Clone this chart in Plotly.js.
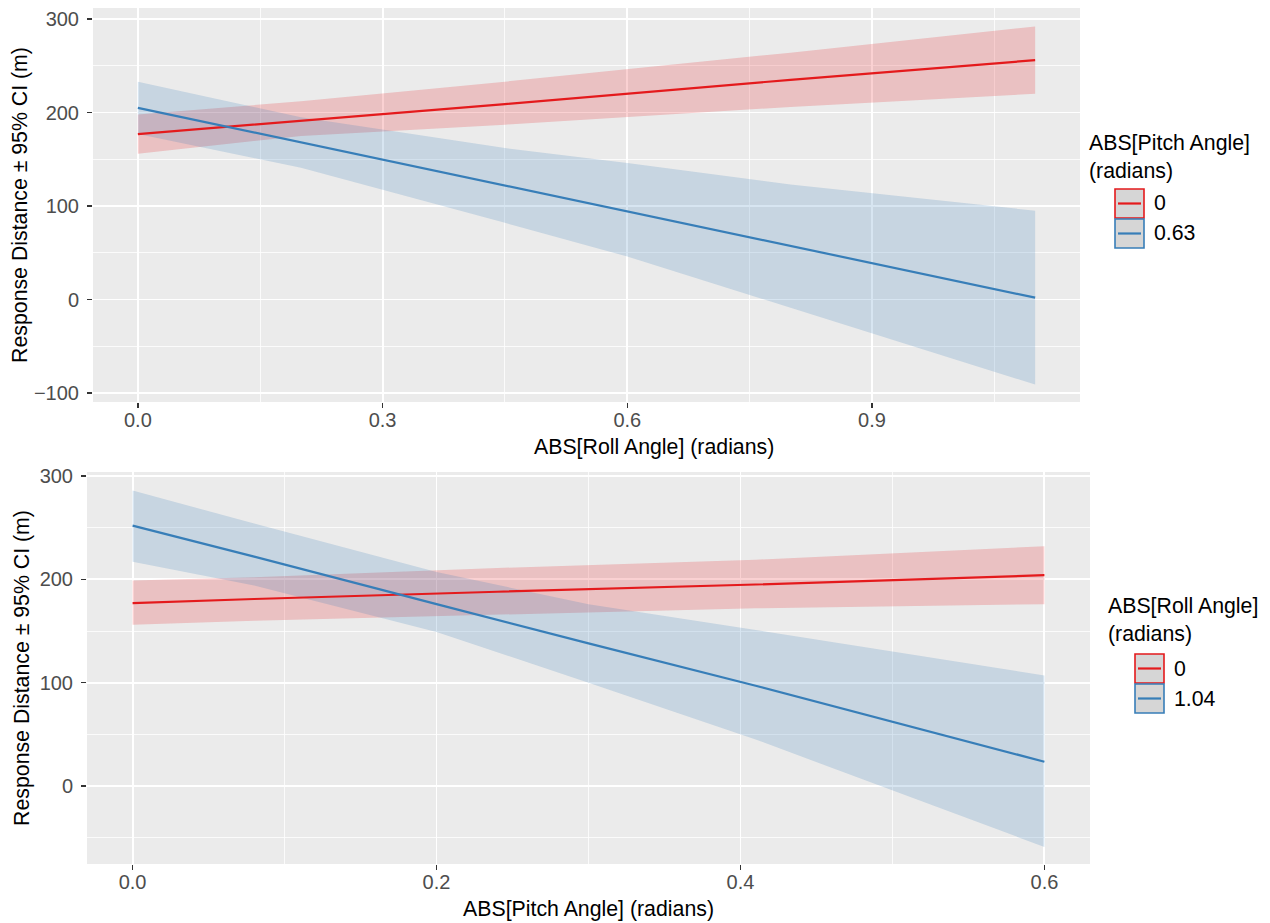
<!DOCTYPE html>
<html><head><meta charset="utf-8">
<script src="https://cdn.plot.ly/plotly-3.0.1.min.js"></script>
<style>html,body{margin:0;padding:0;background:#fff}#chart{width:1270px;height:923px}</style>
</head><body><div id="chart"></div>
<script>
// ---- Top panel: Response distance vs ABS[Roll Angle], grouped by ABS[Pitch Angle] ----
const rollX_pitch0   = [0, 0.2, 0.45, 0.8, 1.1];
const pitch0_fit     = [177, 191, 209, 235, 256];
const pitch0_upper   = [198, 212, 233, 264, 292];
const pitch0_lower   = [156, 175, 187, 206, 220];

const rollX_pitch063 = [0, 0.2, 0.45, 0.6, 0.8, 1.1];
const pitch063_fit   = [205, 168, 122, 94, 57, 2];
const pitch063_upper = [233, 195, 162, 146, 123, 95];
const pitch063_lower = [177, 141, 82, 46, -9, -91];

// ---- Bottom panel: Response distance vs ABS[Pitch Angle], grouped by ABS[Roll Angle] ----
const pitchX_roll0   = [0, 0.08, 0.24, 0.41, 0.6];
const roll0_fit      = [177, 181, 188, 195, 204];
const roll0_upper    = [199, 202, 211, 219, 232];
const roll0_lower    = [156, 160, 166, 172, 176];

const pitchX_roll104 = [0, 0.08, 0.2, 0.3, 0.41, 0.6];
const roll104_fit    = [252, 222, 176, 138, 97, 23.5];
const roll104_upper  = [286, 254, 207, 176, 151, 107];
const roll104_lower  = [217, 194, 149, 100, 45, -59];

// tick labels
const topXTicks = [0, 0.3, 0.6, 0.9];
const botXTicks = [0, 0.2, 0.4, 0.6];
const topYTicks = [-100, 0, 100, 200, 300];
const botYTicks = [0, 100, 200, 300];

const legendTop = {title: 'ABS[Pitch Angle]<br>(radians)', labels: ['0', '0.63']};
const legendBot = {title: 'ABS[Roll Angle]<br>(radians)', labels: ['0', '1.04']};

// ---- styling ----
const RED = '#E41A1C', BLUE = '#377EB8';
const RED_FILL = 'rgba(228,26,28,0.2)', BLUE_FILL = 'rgba(55,126,184,0.2)';
const FONT = 'Liberation Sans, Arial, Helvetica, sans-serif';
const W = 1270, H = 923;
const fx = v => v / W, fy = v => 1 - v / H;

function band(xs, up, lo, fill, xa, ya) {
  return {x: xs.concat(xs.slice().reverse()), y: up.concat(lo.slice().reverse()),
    type: 'scatter', mode: 'lines', fill: 'toself', fillcolor: fill,
    line: {width: 0}, hoverinfo: 'skip', showlegend: false, xaxis: xa, yaxis: ya};
}
function fitLine(xs, ys, color, xa, ya) {
  return {x: xs, y: ys, type: 'scatter', mode: 'lines',
    line: {color: color, width: 2.2}, showlegend: false, xaxis: xa, yaxis: ya};
}

const data = [
  band(rollX_pitch0, pitch0_upper, pitch0_lower, RED_FILL, 'x', 'y'),
  band(rollX_pitch063, pitch063_upper, pitch063_lower, BLUE_FILL, 'x', 'y'),
  fitLine(rollX_pitch0, pitch0_fit, RED, 'x', 'y'),
  fitLine(rollX_pitch063, pitch063_fit, BLUE, 'x', 'y'),
  band(pitchX_roll0, roll0_upper, roll0_lower, RED_FILL, 'x2', 'y2'),
  band(pitchX_roll104, roll104_upper, roll104_lower, BLUE_FILL, 'x2', 'y2'),
  fitLine(pitchX_roll0, roll0_fit, RED, 'x2', 'y2'),
  fitLine(pitchX_roll104, roll104_fit, BLUE, 'x2', 'y2'),
];

function ax(extra) {
  return Object.assign({
    showgrid: true, gridcolor: '#FFFFFF', gridwidth: 1.9, zeroline: false,
    ticks: 'outside', ticklen: 5, tickwidth: 1.3, tickcolor: '#333333',
    tickfont: {family: FONT, size: 20, color: '#4D4D4D'},
    showline: false, fixedrange: true, automargin: false, tickmode: 'array'
  }, extra);
}
function minor(vals) { return {tickmode: 'array', tickvals: vals, showgrid: true, gridcolor: '#FFFFFF', gridwidth: 0.8, ticks: ''}; }

const titleFont = {family: FONT, size: 21.3, color: '#000000'};

const layout = {
  width: W, height: H,
  margin: {l: 0, r: 0, t: 0, b: 0},
  paper_bgcolor: '#FFFFFF', plot_bgcolor: '#EBEBEB',
  showlegend: false,
  font: {family: FONT},
  xaxis: ax({domain: [fx(93), fx(1080)], range: [-0.055, 1.155], anchor: 'y',
    tickvals: topXTicks, ticktext: topXTicks.map(v => v.toFixed(1)), ticklabelstandoff: -5,
    minor: minor([0.15, 0.45, 0.75, 1.05])}),
  yaxis: ax({domain: [fy(402), fy(8)], range: [-109.6, 311.8], anchor: 'x',
    tickvals: topYTicks, ticktext: topYTicks.map(v => v < 0 ? '\u2212' + Math.abs(v) : String(v)),
    ticklabelstandoff: 4,
    minor: minor([-50, 50, 150, 250]),
    title: {text: 'Response Distance \u00B1 95% CI (m)', font: titleFont, standoff: 0}}),
  xaxis2: ax({domain: [fx(87), fx(1090)], range: [-0.03, 0.63], anchor: 'y2',
    tickvals: botXTicks, ticktext: botXTicks.map(v => v.toFixed(1)), ticklabelstandoff: -5,
    minor: minor([0.1, 0.3, 0.5]),
    title: {text: 'ABS[Pitch Angle] (radians)', font: titleFont, standoff: 9}}),
  yaxis2: ax({domain: [fy(864), fy(472)], range: [-75.5, 303.9], anchor: 'x2',
    tickvals: botYTicks, ticktext: botYTicks.map(String), ticklabelstandoff: 4,
    minor: minor([-50, 50, 150, 250]),
    title: {text: 'Response Distance \u00B1 95% CI (m)', font: titleFont, standoff: 4}}),
  shapes: [],
  annotations: [
    {text: 'ABS[Roll Angle] (radians)', xref: 'paper', yref: 'paper', x: fx(654), y: fy(447),
     xanchor: 'center', yanchor: 'middle', showarrow: false, font: titleFont}
  ]
};

// legends drawn as guides
function addLegend(spec, titleX, titleTop, keyX, keyTop, keySize, labelX) {
  layout.annotations.push({text: spec.title, xref: 'paper', yref: 'paper', x: fx(titleX), y: fy(titleTop),
    xanchor: 'left', yanchor: 'top', align: 'left', showarrow: false, font: titleFont});
  const colors = [RED, BLUE];
  spec.labels.forEach((lab, i) => {
    const t = keyTop + i * (keySize + 1);
    layout.shapes.push({type: 'rect', xref: 'paper', yref: 'paper',
      x0: fx(keyX), x1: fx(keyX + keySize), y0: fy(t), y1: fy(t + keySize),
      fillcolor: '#D6D6D6', line: {color: colors[i], width: 1.6}});
    layout.shapes.push({type: 'line', xref: 'paper', yref: 'paper',
      x0: fx(keyX + 3), x1: fx(keyX + keySize - 3), y0: fy(t + keySize / 2), y1: fy(t + keySize / 2),
      line: {color: colors[i], width: 2.2}});
    layout.annotations.push({text: lab, xref: 'paper', yref: 'paper', x: fx(labelX), y: fy(t + keySize / 2),
      xanchor: 'left', yanchor: 'middle', showarrow: false, font: titleFont});
  });
}
addLegend(legendTop, 1087, 129, 1115, 189, 29, 1152);
addLegend(legendBot, 1106, 592, 1135, 654, 29, 1172);

Plotly.newPlot('chart', data, layout, {staticPlot: true});
</script></body></html>
